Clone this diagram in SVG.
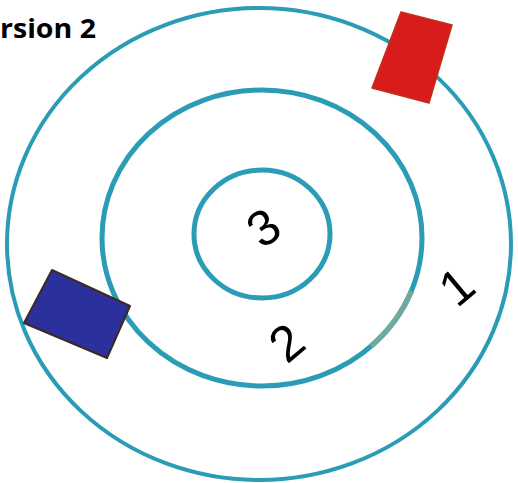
<svg xmlns="http://www.w3.org/2000/svg" width="518" height="483" viewBox="0 0 518 483">
<style>
.ring{fill:none;stroke:#2a9cb5;}
.num{font-family:"Liberation Sans",Arial,sans-serif;font-size:50px;fill:#000;text-anchor:middle;}
.title{font-family:"Open Sans","Liberation Sans",sans-serif;font-weight:bold;font-size:27px;fill:#000;}
</style>
<rect width="518" height="483" fill="#fff"/>
<g id="ring-outer"><ellipse class="ring" cx="259" cy="244" rx="252" ry="236" stroke-width="4"/></g>
<g id="ring-middle"><ellipse class="ring" cx="262" cy="238" rx="160" ry="148" stroke-width="5"/>
<path d="M 411.4 291 A 160 148 0 0 1 371 346.2" fill="none" stroke="#6fa9a0" stroke-width="5.5"/></g>
<g id="ring-inner"><ellipse class="ring" cx="262" cy="234" rx="68" ry="64" stroke-width="5"/></g>
<g id="red-block"><polygon points="401,12 452,25 429,103 372,88" fill="#d81c1c" stroke="#c0301a" stroke-width="1.5" stroke-linejoin="round"/></g>
<g id="blue-block"><polygon points="52,270 130,306 107,358 24,323" fill="#2c309c" stroke="#3b2a22" stroke-width="2" stroke-linejoin="round"/></g>
<g id="labels">
<text class="title" x="0" y="38" textLength="96" lengthAdjust="spacingAndGlyphs">rsion 2</text>
<g transform="translate(263,227) rotate(-35)"><text class="num" x="0" y="18">3</text></g>
<g transform="translate(286,342) rotate(-40)"><text class="num" x="0" y="18">2</text></g>
<g transform="translate(456,286) rotate(-40)"><text class="num" x="0" y="18">1</text></g>
</g>
</svg>
